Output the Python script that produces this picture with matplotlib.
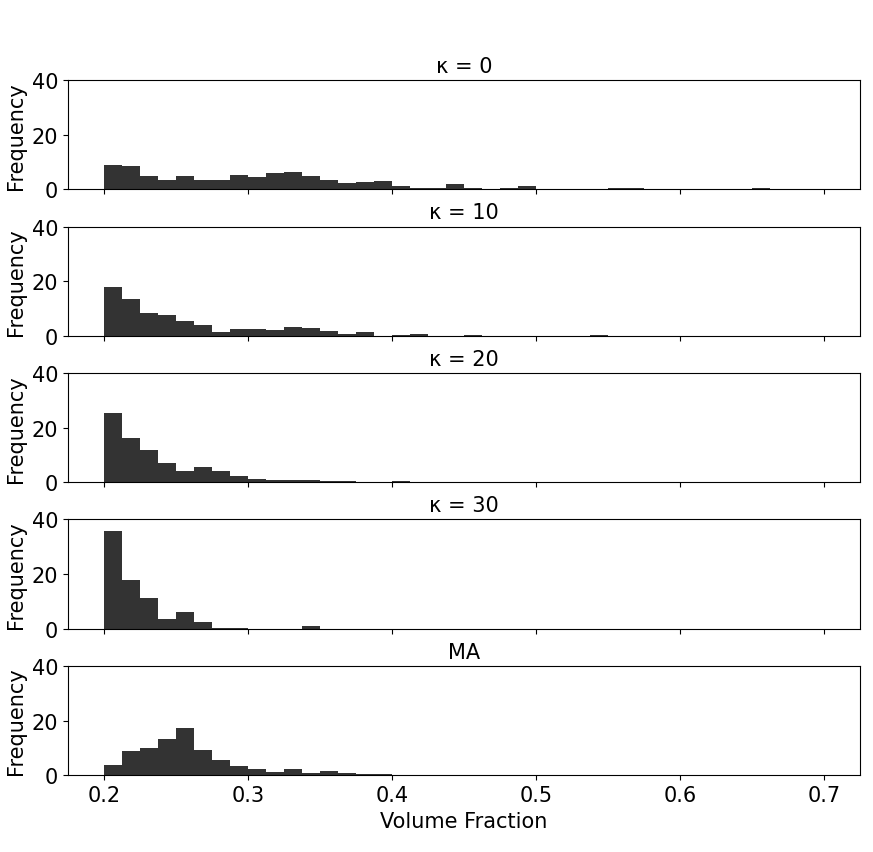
import numpy as np
import matplotlib
matplotlib.use("Agg")
import matplotlib.pyplot as plt

# bins of width 0.0125 from 0.2 to 0.7
bin_edges = np.linspace(0.2, 0.7, 41)

titles = ["κ = 0", "κ = 10", "κ = 20", "κ = 30", "MA"]

freq_k0 = [8.9, 8.6, 4.8, 3.3, 4.8, 3.3, 3.3, 5.1, 4.4, 5.9,
           6.2, 4.8, 3.3, 2.2, 2.6, 2.9, 1.1, 0.4, 0.4, 1.9,
           0.4, 0.0, 0.4, 1.1, 0.0, 0.0, 0.0, 0.0, 0.4, 0.4,
           0.0, 0.0, 0.0, 0.0, 0.0, 0.0, 0.4, 0.0, 0.0, 0.0]
freq_k10 = [17.7, 13.6, 8.5, 7.7, 5.5, 4.0, 1.5, 2.6, 2.6, 2.2,
            3.3, 2.9, 1.8, 0.7, 1.5, 0.0, 0.4, 0.7, 0.0, 0.0,
            0.4, 0.0, 0.0, 0.0, 0.0, 0.0, 0.0, 0.4, 0.0, 0.0,
            0.0, 0.0, 0.0, 0.0, 0.0, 0.0, 0.0, 0.0, 0.0, 0.0]
freq_k20 = [25.4, 16.3, 11.8, 7.0, 4.0, 5.5, 4.0, 2.2, 1.1, 0.7,
            0.7, 0.7, 0.4, 0.4, 0.0, 0.0, 0.4, 0.0, 0.0, 0.0,
            0.0, 0.0, 0.0, 0.0, 0.0, 0.0, 0.0, 0.0, 0.0, 0.0,
            0.0, 0.0, 0.0, 0.0, 0.0, 0.0, 0.0, 0.0, 0.0, 0.0]
freq_k30 = [35.7, 17.7, 11.4, 3.7, 6.3, 2.6, 0.4, 0.4, 0.0, 0.0,
            0.0, 1.1, 0.0, 0.0, 0.0, 0.0, 0.0, 0.0, 0.0, 0.0,
            0.0, 0.0, 0.0, 0.0, 0.0, 0.0, 0.0, 0.0, 0.0, 0.0,
            0.0, 0.0, 0.0, 0.0, 0.0, 0.0, 0.0, 0.0, 0.0, 0.0]
freq_ma = [3.7, 8.8, 9.9, 13.2, 17.3, 9.2, 5.5, 3.3, 2.2, 1.1,
           2.2, 0.7, 1.5, 0.7, 0.4, 0.4, 0.0, 0.0, 0.0, 0.0,
           0.0, 0.0, 0.0, 0.0, 0.0, 0.0, 0.0, 0.0, 0.0, 0.0,
           0.0, 0.0, 0.0, 0.0, 0.0, 0.0, 0.0, 0.0, 0.0, 0.0]

all_freqs = [freq_k0, freq_k10, freq_k20, freq_k30, freq_ma]

plt.rcParams['font.size'] = 15

fig, axes = plt.subplots(5, 1, figsize=(8.73, 8.53), sharex=True, sharey=True)
fig.subplots_adjust(left=0.078, right=0.985, bottom=0.090, top=0.905, hspace=0.34)

centers = (bin_edges[:-1] + bin_edges[1:]) / 2
for ax, title, freqs in zip(axes, titles, all_freqs):
    ax.hist(centers, bins=bin_edges, weights=freqs, color='#333333')
    ax.set_title(title, fontsize=15)
    ax.set_ylabel("Frequency")
    ax.set_ylim(0, 40)
    ax.set_yticks([0, 20, 40])

axes[-1].set_xlabel("Volume Fraction")

plt.savefig("out.png", dpi=100)
